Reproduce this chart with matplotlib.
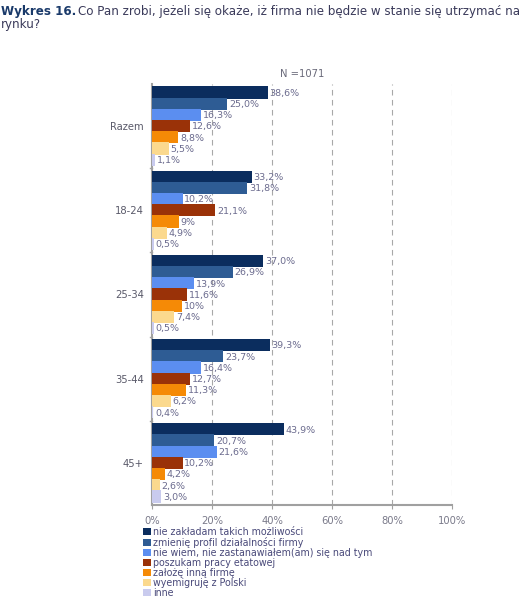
import matplotlib.pyplot as plt
from matplotlib.patches import Patch

# dane z wykresu
groups = ['Razem', '18-24', '25-34', '35-44', '45+']
series = ['nie zakładam takich możliwości',
          'zmienię profil działalności firmy',
          'nie wiem, nie zastanawiałem(am) się nad tym',
          'poszukam pracy etatowej',
          'założę inną firmę',
          'wyemigruję z Polski',
          'inne']
# etykiety tak jak na wykresie (wartości w %)
razem = ['38,6', '25,0', '16,3', '12,6', '8,8', '5,5', '1,1']
g18_24 = ['33,2', '31,8', '10,2', '21,1', '9', '4,9', '0,5']
g25_34 = ['37,0', '26,9', '13,9', '11,6', '10', '7,4', '0,5']
g35_44 = ['39,3', '23,7', '16,4', '12,7', '11,3', '6,2', '0,4']
g45 = ['43,9', '20,7', '21,6', '10,2', '4,2', '2,6', '3,0']
data = [razem, g18_24, g25_34, g35_44, g45]
colors = ['#0b2d5e', '#2e5c94', '#5b8ef0', '#9a3208', '#f58a06', '#fbd98e', '#c9cbee']
xticks = [0, 20, 40, 60, 80, 100]

fig = plt.figure(figsize=(5.23, 5.99), dpi=100)
ax = fig.add_axes([152 / 523, 1 - 505 / 599, 300 / 523, 421 / 599])

n = len(series)
bar_h = 0.93 / n
for gi, vals in enumerate(data):
    for si, s in enumerate(vals):
        v = float(s.replace(',', '.'))
        y = gi - 0.465 + bar_h * (si + 0.5)
        ax.barh(y, v, height=bar_h * 1.08, color=colors[si], edgecolor='none', zorder=3)
        ax.text(v + 0.6, y + 0.01, s + '%', fontsize=6.8, color='#6b6b8e',
                va='center', ha='left', zorder=4)

ax.set_xlim(0, 100)
ax.set_ylim(len(groups) - 0.5, -0.5)
ax.set_yticks(range(len(groups)))
ax.set_yticklabels(groups, fontsize=7.2, color='#5a5a6a')
ax.set_xticks(xticks)
ax.set_xticklabels([f'{t}%' for t in xticks], fontsize=7.2, color='#7a7a8a')
ax.tick_params(axis='y', length=0, pad=6)
ax.tick_params(axis='x', length=3, color='#a0a0a0', pad=5)
for t in xticks[1:]:
    ax.axvline(t, color='#a8a8a8', lw=0.8, ls=(0, (5, 4)), zorder=1)
for b in [0.5, 1.5, 2.5, 3.5]:
    ax.plot([-0.6, 0], [b, b], color='#a0a0a0', lw=1, clip_on=False)
for sp in ['top', 'right']:
    ax.spines[sp].set_visible(False)
ax.spines['left'].set_color('#a0a0a0')
ax.spines['left'].set_linewidth(1.5)
ax.spines['bottom'].set_color('#a0a0a0')
ax.spines['bottom'].set_linewidth(1.5)

ax.set_title('N =1071', fontsize=7.2, color='#6a6a7a', pad=5)

fig.text(0.002, 0.992, 'Wykres 16.', fontsize=8.6, fontweight='bold', color='#1a3a6a',
         va='top', ha='left')
fig.text(78 / 523, 0.992, 'Co Pan zrobi, jeżeli się okaże, iż firma nie będzie w stanie się utrzymać na',
         fontsize=8.6, color='#3a3a5a', va='top', ha='left')
fig.text(0.002, 0.97, 'rynku?', fontsize=8.6, color='#3a3a5a', va='top', ha='left')

handles = [Patch(facecolor=c, edgecolor='none') for c in colors]
leg = fig.legend(handles, series, loc='upper left', bbox_to_anchor=(143 / 523, 1 - 527 / 599),
                 frameon=False, fontsize=6.85, labelspacing=0.0, handlelength=0.8,
                 handleheight=0.8, handletextpad=0.25, borderpad=0, borderaxespad=0)
for t in leg.get_texts():
    t.set_color('#4a4a7a')

fig.savefig('out.png', dpi=100)
